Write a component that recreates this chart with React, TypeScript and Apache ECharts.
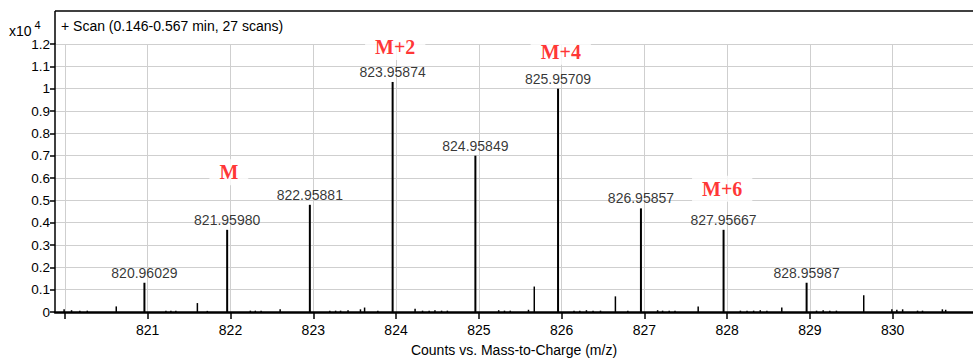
import React, { useEffect, useRef } from "react";
import * as echarts from "echarts";

// Major labelled peaks (m/z, intensity x10^4)
const peakMz = [820.96029, 821.9598, 822.95881, 823.95874, 824.95849, 825.95709, 826.95857, 827.95667, 828.95987];
const peakLabels = ["820.96029", "821.95980", "822.95881", "823.95874", "824.95849", "825.95709", "826.95857", "827.95667", "828.95987"];
const peakInt = [0.131, 0.368, 0.48, 1.03, 0.70, 1.0, 0.464, 0.368, 0.131];

// Minor / noise peaks
const minorMz = [
  819.99, 820.08, 820.18, 820.27, 820.62, 821.22, 821.28, 821.34, 821.6, 821.72,
  822.24, 822.3, 822.37, 822.6, 823.2, 823.27, 823.33, 823.42, 823.57, 823.62, 823.78,
  824.23, 824.32, 824.4, 824.47, 824.55, 824.62, 825.24, 825.31, 825.38, 825.6, 825.67,
  826.15, 826.22, 826.3, 826.38, 826.47, 826.65, 826.8, 827.16, 827.22, 827.3, 827.37, 827.65,
  828.16, 828.24, 828.32, 828.4, 828.48, 828.66, 829.08, 829.16, 829.24, 829.32, 829.65,
  829.99, 830.05, 830.12, 830.3, 830.36, 830.6, 830.64,
];
const minorInt = [
  0.012, 0.008, 0.006, 0.006, 0.025, 0.006, 0.006, 0.006, 0.04, 0.005,
  0.006, 0.006, 0.006, 0.012, 0.006, 0.006, 0.006, 0.008, 0.012, 0.02, 0.006,
  0.014, 0.006, 0.006, 0.008, 0.006, 0.006, 0.008, 0.006, 0.006, 0.01, 0.114,
  0.006, 0.006, 0.008, 0.006, 0.006, 0.07, 0.006, 0.008, 0.006, 0.006, 0.006, 0.025,
  0.006, 0.006, 0.006, 0.008, 0.006, 0.02, 0.006, 0.008, 0.006, 0.006, 0.075,
  0.012, 0.01, 0.012, 0.006, 0.006, 0.012, 0.01,
];

// Isotope annotations
const isoNames = ["M", "M+2", "M+4", "M+6"];
const isoMz = [821.98, 823.99, 825.99, 827.94];
const isoY = [0.626, 1.187, 1.165, 0.552];

const xTicks = [820, 821, 822, 823, 824, 825, 826, 827, 828, 829, 830];
const xLabels = [821, 822, 823, 824, 825, 826, 827, 828, 829, 830];

const FONT = "Liberation Sans";

export default function App() {
  const ref = useRef<HTMLDivElement>(null);
  useEffect(() => {
    const chart = echarts.init(ref.current!, null, { renderer: "svg" });
    const stick = (width: number) => (params: any, api: any) => {
      const x = api.value(0);
      const y = api.value(1);
      const p0 = api.coord([x, 0]);
      const p1 = api.coord([x, y]);
      return {
        type: "line",
        shape: { x1: p0[0], y1: p0[1], x2: p1[0], y2: p1[1] },
        style: { stroke: "#000", lineWidth: width },
      };
    };
    chart.setOption({
      animation: false,
      backgroundColor: "#fff",
      grid: { left: 55, top: 44, right: 0, bottom: 45 },
      xAxis: {
        type: "value",
        min: 819.88,
        max: 830.97,
        name: "Counts vs. Mass-to-Charge (m/z)",
        nameLocation: "middle",
        nameGap: 31,
        nameTextStyle: { color: "#000", fontSize: 14, fontFamily: FONT },
        axisLine: { onZero: false, lineStyle: { color: "#000", width: 2.5 } },
        axisTick: { customValues: xTicks, length: 7, lineStyle: { color: "#000", width: 1.5 } },
        axisLabel: { customValues: xLabels, color: "#000", fontSize: 14, fontFamily: FONT, margin: 11 },
        splitLine: { show: true, lineStyle: { color: "#cfcfcf", width: 1 } },
      },
      yAxis: {
        type: "value",
        min: 0,
        max: 1.2,
        interval: 0.1,
        axisLine: { show: true, lineStyle: { color: "#000", width: 1.5 } },
        axisTick: { show: true, length: 5, lineStyle: { color: "#000", width: 1.5 } },
        axisLabel: { color: "#000", fontSize: 13.5, fontFamily: FONT, margin: 5 },
        splitLine: { show: true, lineStyle: { color: "#cfcfcf", width: 1 } },
      },
      series: [
        {
          type: "custom",
          renderItem: stick(1.5),
          data: minorMz.map((m, i) => [m, minorInt[i]]),
          z: 3,
        },
        {
          type: "custom",
          renderItem: stick(2),
          data: peakMz.map((m, i) => [m, peakInt[i]]),
          z: 4,
        },
        {
          type: "scatter",
          symbolSize: 0,
          data: peakMz.map((m, i) => ({ value: [m, peakInt[i]], name: peakLabels[i] })),
          label: {
            show: true,
            position: "top",
            distance: 3,
            formatter: (p: any) => p.name,
            color: "#000",
            fontSize: 14,
            fontFamily: FONT,
          },
          z: 5,
        },
        {
          type: "scatter",
          symbolSize: 0,
          data: isoMz.map((m, i) => ({ value: [m, isoY[i]], name: isoNames[i] })),
          label: {
            show: true,
            position: "inside",
            formatter: (p: any) => p.name,
            color: "#ff0000",
            fontSize: 20,
            fontWeight: "bold",
            fontFamily: "Liberation Serif",
            backgroundColor: "#fff",
            padding: [3, 10],
          },
          z: 6,
        },
      ],
      graphic: [
        { type: "line", shape: { x1: 55, y1: 11, x2: 973, y2: 11 }, style: { stroke: "#000", lineWidth: 1.5 } },
        { type: "line", shape: { x1: 55, y1: 11, x2: 55, y2: 44 }, style: { stroke: "#000", lineWidth: 1.5 } },
        {
          type: "text",
          left: 61,
          top: 19,
          style: { text: "+ Scan (0.146-0.567 min, 27 scans)", fill: "#000", fontSize: 14, fontFamily: FONT },
        },
        {
          type: "text",
          left: 9,
          top: 19,
          style: {
            text: "{a|x10}{b| 4}",
            rich: {
              a: { fontSize: 14, fontFamily: FONT, fill: "#000", padding: [5, 0, 0, 0] },
              b: { fontSize: 11, fontFamily: FONT, fill: "#000", verticalAlign: "top" },
            },
          },
        },
      ],
    });
    return () => chart.dispose();
  }, []);
  return <div ref={ref} style={{ width: 973, height: 362, position: "absolute", left: 0, top: 0 }} />;
}
